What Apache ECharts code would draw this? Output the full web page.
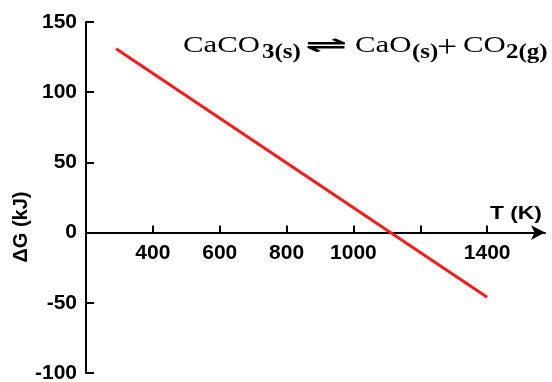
<!DOCTYPE html>
<html>
<head>
<meta charset="utf-8">
<script src="https://cdn.jsdelivr.net/npm/echarts@6/dist/echarts.min.js"></script>
<style>
    html, body { margin: 0; padding: 0; background: #fff; }
    #chart { width: 552px; height: 382px; }
</style>
</head>
<body>
<div id="chart"></div>
<script>
// temperature (K) vs free energy change (kJ)
const tempK = [290, 1400];
const deltaG = [131, -46];
const xTicks = [400, 600, 800, 1000, 1200, 1400];
const xLabels = [400, 600, 800, 1000, 1400];

const chart = echarts.init(document.getElementById('chart'));
const labelFont = {
    color: '#000',
    fontFamily: 'Liberation Sans, Arial, sans-serif',
    fontWeight: 'bold',
    fontSize: 21,
};
const serif = '"Liberation Serif", "Times New Roman", serif';

// pieces of the equation: text, x, kind
const eqParts = [
    ['CaCO', 183, 'm'], ['3(s)', 262, 's'], ['⇌', 305, 'h'],
    ['CaO', 355, 'm'], ['(s)', 412, 's'], ['+', 437, 'p'],
    ['CO', 463, 'm'], ['2(g)', 506, 's'],
];
const eqStyle = {
    m: { font: '23px ' + serif, y: 45.5, sx: 1.34 },
    s: { font: 'bold 20px ' + serif, y: 53, sx: 1.25 },
    p: { font: '31px ' + serif, y: 49, sx: 1.15 },
    h: { font: 'bold 22px "DejaVu Sans", sans-serif', y: 46, sx: 2.3 },
};

const zeroOffset = -140.4; // lift the T axis from the grid bottom up to ΔG = 0

const option = {
    animation: false,
    grid: { left: 86, right: 7, top: 22, bottom: 9, outerBoundsMode: 'none' },
    xAxis: {
        type: 'value',
        min: 200,
        max: 1573,
        interval: 200,
        position: 'bottom',
        offset: zeroOffset,
        splitLine: { show: false },
        axisLine: {
            onZero: false,
            symbol: ['none', 'arrow'],
            symbolSize: [11, 14],
            lineStyle: { color: '#000', width: 2 },
        },
        axisTick: {
            inside: true,
            length: 7,
            customValues: xTicks,
            lineStyle: { color: '#000', width: 2 },
        },
        axisLabel: {
            ...labelFont,
            margin: 10,
            customValues: xLabels,
            formatter: (v) => String(v),
        },
    },
    yAxis: {
        type: 'value',
        min: -100,
        max: 150,
        interval: 50,
        splitLine: { show: false },
        axisLine: { show: true, lineStyle: { color: '#000', width: 2 } },
        axisTick: {
            show: true,
            inside: true,
            length: 8,
            lineStyle: { color: '#000', width: 2 },
        },
        axisLabel: { ...labelFont, margin: 9, formatter: (v) => String(v) },
    },
    graphic: [
        {
            type: 'text',
            x: 490,
            y: 214,
            scaleX: 1.2,
            style: {
                text: 'T (K)',
                font: 'bold 19px "Liberation Sans", Arial, sans-serif',
                fill: '#000',
                verticalAlign: 'middle',
            },
        },
        {
            type: 'text',
            x: 21,
            y: 227,
            rotation: Math.PI / 2,
            style: {
                text: 'ΔG (kJ)',
                font: 'bold 20px "Liberation Sans", Arial, sans-serif',
                fill: '#000',
                align: 'center',
                verticalAlign: 'middle',
            },
        },
        ...eqParts.map(([txt, x, kind]) => ({
            type: 'text',
            x: x,
            y: eqStyle[kind].y,
            scaleX: eqStyle[kind].sx,
            style: {
                text: txt,
                font: eqStyle[kind].font,
                fill: '#000',
                verticalAlign: 'middle',
            },
        })),
    ],
    series: [
        {
            type: 'line',
            data: tempK.map((t, i) => [t, deltaG[i]]),
            showSymbol: false,
            lineStyle: { color: '#f21d1d', width: 3 },
        },
    ],
};
chart.setOption(option);
</script>
</body>
</html>
